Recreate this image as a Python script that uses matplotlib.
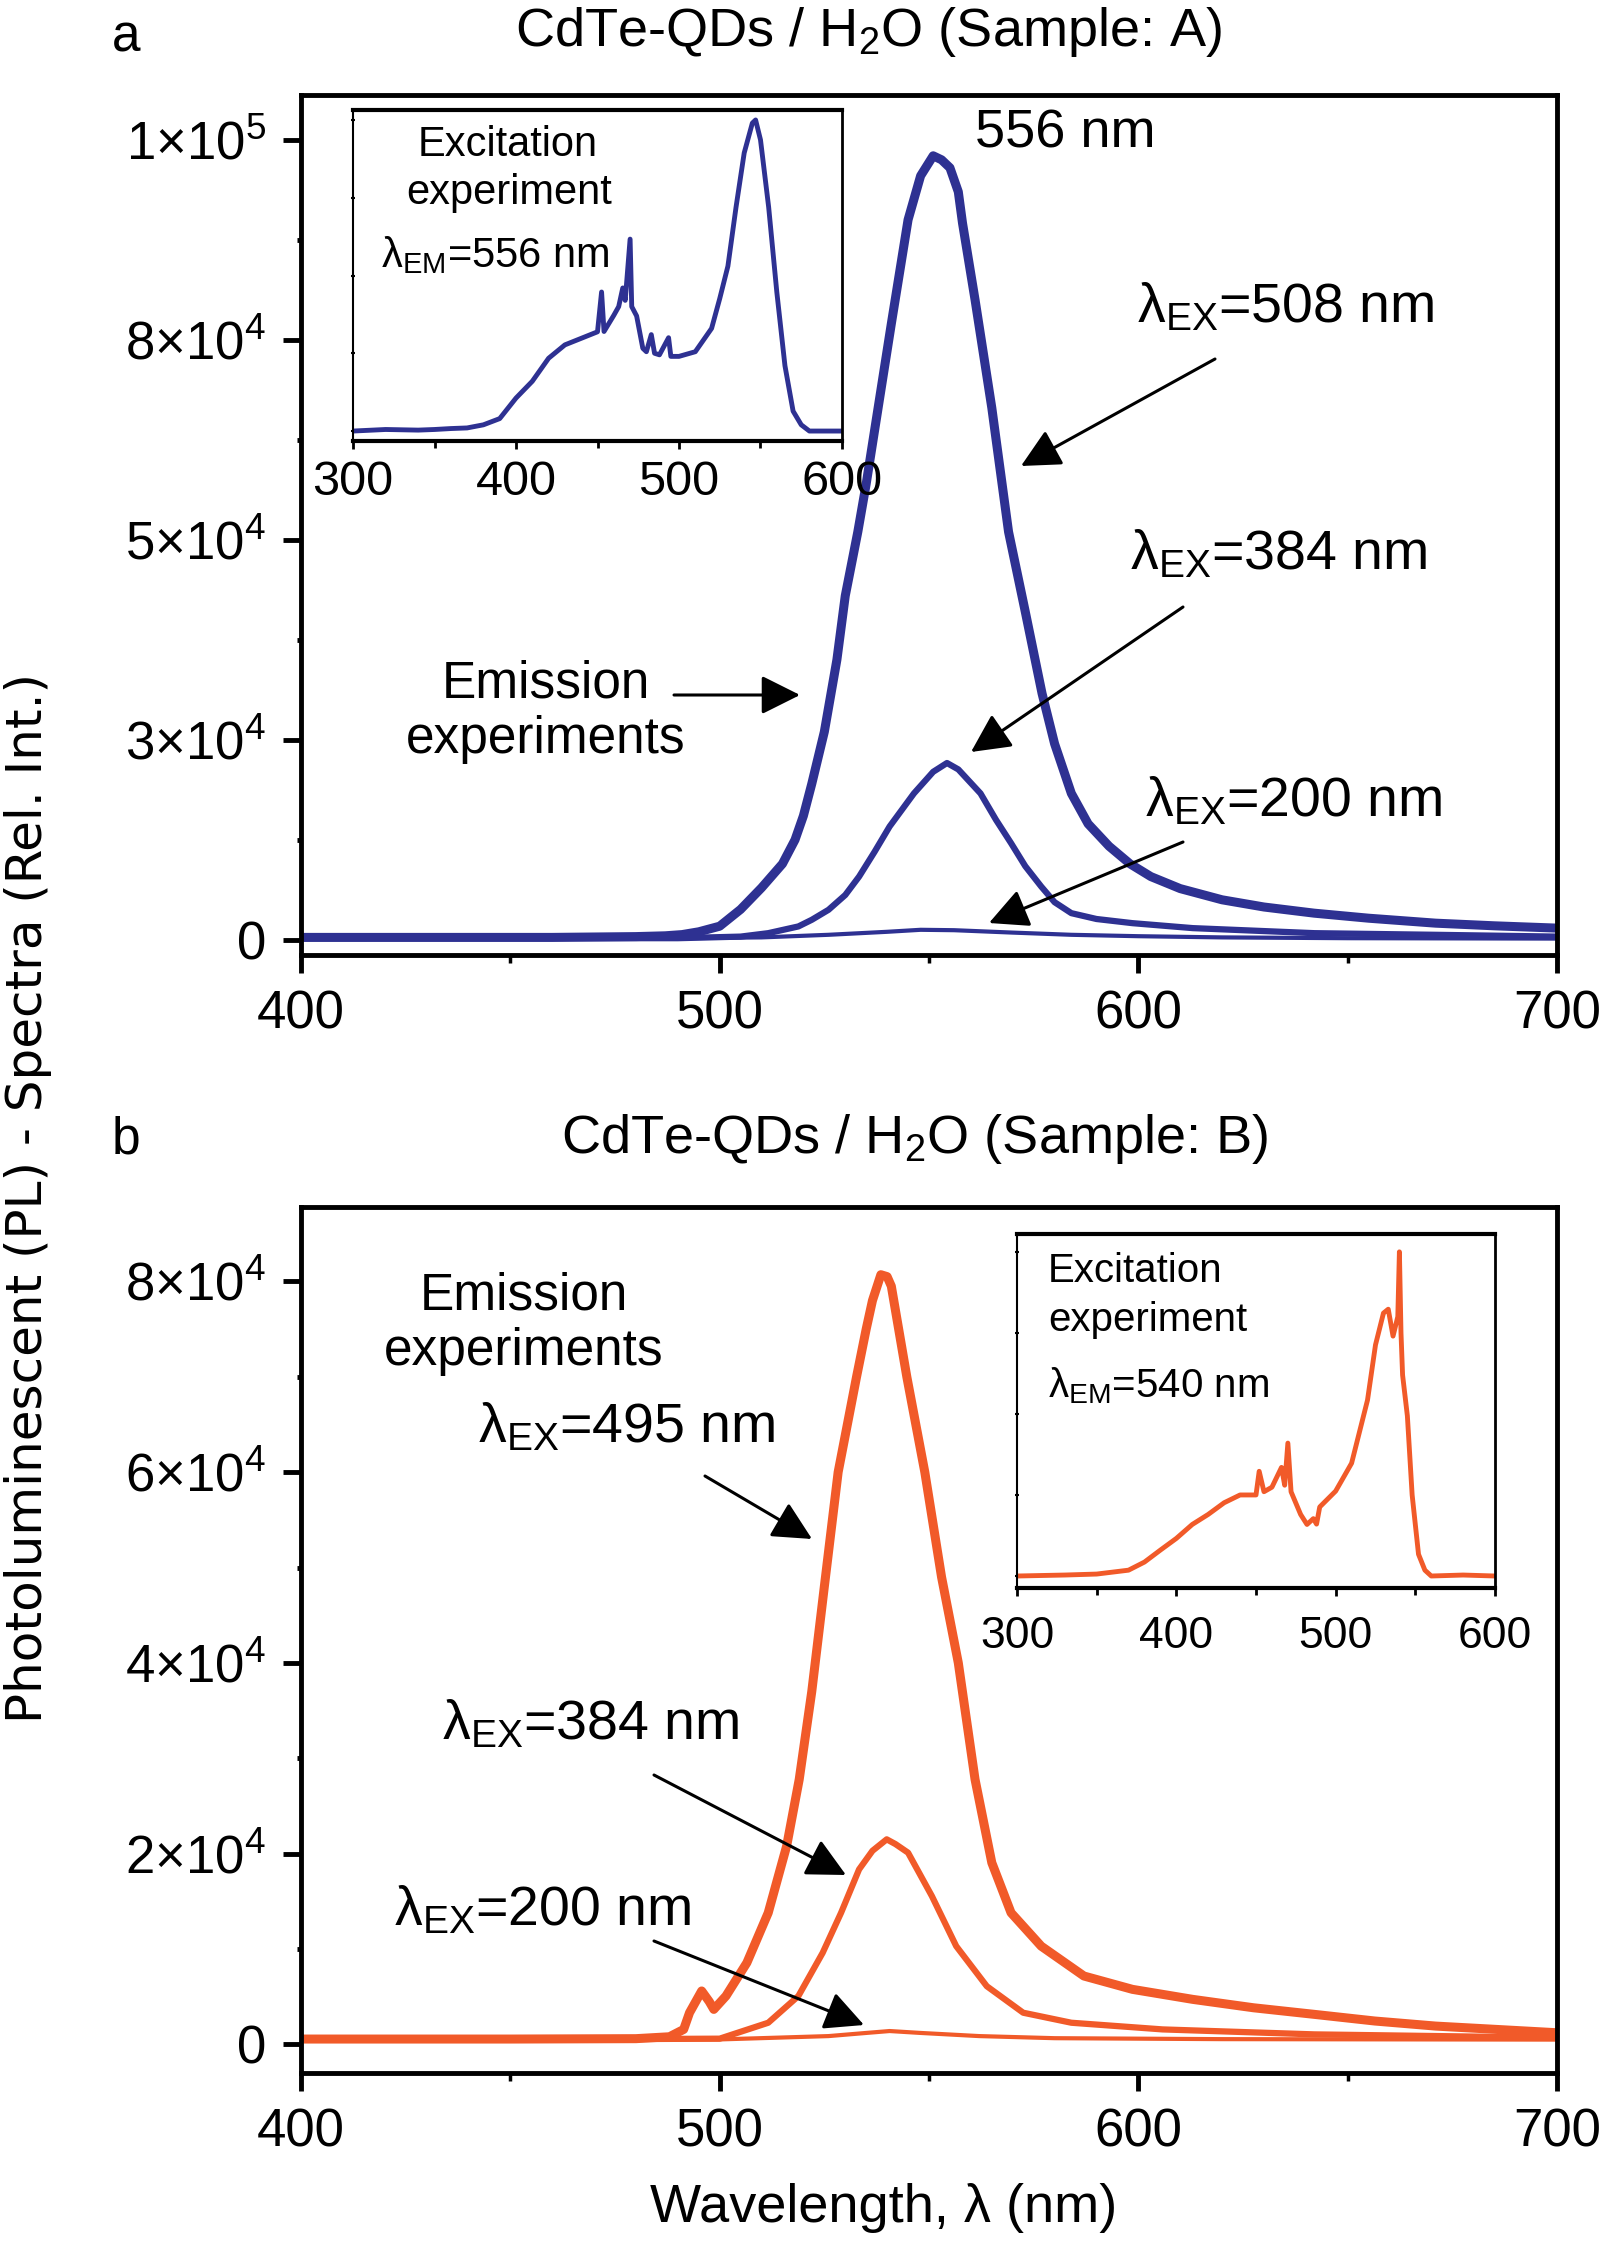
import matplotlib

matplotlib.use("Agg")
import matplotlib.pyplot as plt

plt.rcParams["font.family"] = ["Liberation Sans", "DejaVu Sans"]
plt.rcParams["mathtext.fontset"] = "custom"
plt.rcParams["mathtext.rm"] = "Liberation Sans"
plt.rcParams["mathtext.it"] = "Liberation Sans:italic"
plt.rcParams["mathtext.default"] = "regular"

BLUE = "#2E3192"
ORANGE = "#F15A29"

# ---- panel a: emission spectra (nm, counts) ----
a508_wl = [400, 420, 440, 460, 480, 487, 491, 495, 500, 505, 510, 515, 518, 520, 522, 525, 528,
           530, 533, 535, 538, 541, 545, 548, 551, 553, 555, 557, 558, 561, 565, 569, 573, 577,
           580, 584, 588, 593, 598, 603, 610, 620, 630, 642, 655, 671, 685, 700]
a508_int = [300, 300, 300, 300, 400, 500, 650, 1000, 1700, 3800, 6500, 9500, 12500, 15500,
            19500, 26000, 35000, 43000, 51000, 57000, 67000, 77000, 90000, 95500, 98000, 97500,
            96500, 93500, 89600, 80000, 66500, 51000, 41000, 30800, 24500, 18300, 14500, 11700,
            9500, 7900, 6400, 5000, 4100, 3330, 2700, 2080, 1750, 1460]

a384_wl = [400, 450, 490, 505, 511.6, 518.8, 522, 526, 530, 533.3, 537, 540.6, 546.4, 551,
           554.3, 557, 562.3, 566, 569.6, 573, 576.8, 580, 584, 590, 598.6, 613, 642, 671, 700]
a384_int = [200, 200, 200, 400, 830, 1670, 2500, 3750, 5600, 7900, 11000, 14170, 18300, 21000,
            22100, 21300, 18300, 15000, 12080, 9200, 6660, 4700, 3330, 2600, 2080, 1460, 830,
            625, 400]

a200_wl = [400, 480, 510, 526, 540, 548, 556, 570, 584, 600, 620, 650, 700]
a200_int = [100, 150, 300, 625, 1000, 1250, 1200, 900, 625, 450, 300, 200, 150]

# ---- panel a inset: excitation spectrum, lambda_EM = 556 nm (normalised) ----
exa_wl = [300, 320, 340, 350, 360, 370, 380, 390, 400, 410, 420, 430, 440, 450, 452.5, 454, 460,
          463, 465.5, 467, 470, 471, 474, 477.8, 480, 483, 485, 488, 493.6, 495, 500, 510, 520,
          525, 530, 535, 540, 545, 547, 550, 555, 560, 565, 570, 575, 580, 590, 600]
exa_int = [0, 0.005, 0.003, 0.005, 0.008, 0.01, 0.02, 0.04, 0.106, 0.16, 0.234, 0.277, 0.298,
           0.319, 0.447, 0.32, 0.372, 0.40, 0.46, 0.42, 0.617, 0.40, 0.37, 0.266, 0.255, 0.31,
           0.25, 0.245, 0.30, 0.24, 0.24, 0.255, 0.33, 0.426, 0.53, 0.72, 0.894, 0.99, 1.0, 0.936,
           0.72, 0.447, 0.21, 0.064, 0.02, 0.0, 0.0, 0.0]

# ---- panel b: emission spectra ----
b495_wl = [400, 450, 480, 488, 491.4, 492.8, 495.7, 497.5, 498.6, 501.5, 506.5, 511.6, 516, 519,
           522, 525, 528.3, 532.7, 535, 536.5, 538.5, 540, 541, 544.7, 549, 553, 557, 561, 565,
           569.6, 576.8, 587, 598.6, 613, 627.5, 642, 656.5, 671, 700]
b495_int = [560, 560, 600, 800, 1570, 3320, 5600, 4500, 3670, 5070, 8560, 13800, 20800, 27780,
            37000, 48000, 60000, 70000, 75000, 78000, 80700, 80500, 79500, 70000, 60000, 49000,
            40000, 27780, 19050, 13800, 10300, 7170, 5770, 4720, 3840, 3150, 2450, 1920, 1220]

b384_wl = [400, 480, 500, 504.3, 511.6, 518.8, 524.6, 529, 533.3, 536.5, 539.9, 542, 545, 550.7,
           556.5, 563.8, 572.5, 584, 605.8, 642, 700]
b384_int = [560, 560, 600, 1220, 2270, 5070, 9600, 13800, 18350, 20300, 21500, 21000, 20100,
            15540, 10300, 6100, 3320, 2270, 1570, 1050, 700]

b200_wl = [400, 500, 526, 535, 540.6, 548, 562, 580, 620, 700]
b200_int = [500, 520, 870, 1200, 1400, 1200, 870, 650, 550, 500]

# ---- panel b inset: excitation spectrum, lambda_EM = 540 nm (normalised) ----
exb_wl = [300, 330, 350, 370, 380, 390, 400, 410, 420, 430, 440, 450, 452, 455, 460, 466, 468,
          470, 472, 478, 482, 486, 488, 490, 500, 510, 520, 525, 530, 533, 536, 539, 540, 541,
          542, 545, 548, 552, 556, 560, 580, 600]
exb_int = [0, 0.003, 0.006, 0.018, 0.043, 0.08, 0.116, 0.159, 0.19, 0.226, 0.25, 0.25, 0.323,
           0.26, 0.274, 0.335, 0.28, 0.41, 0.26, 0.19, 0.159, 0.177, 0.16, 0.213, 0.262, 0.348,
           0.543, 0.713, 0.811, 0.823, 0.74, 0.80, 1.0, 0.75, 0.62, 0.494, 0.25, 0.067, 0.018,
           0.0, 0.003, 0.0]

A_TICKS = [0, 25000, 50000, 75000, 100000]
A_TICK_LABELS = ["0", "3×10$^4$", "5×10$^4$", "8×10$^4$", "1×10$^5$"]
B_TICKS = [0, 20000, 40000, 60000, 80000]
B_TICK_LABELS = ["0", "2×10$^4$", "4×10$^4$", "6×10$^4$", "8×10$^4$"]

W, H = 1603, 2241


def rect(x0, y0, x1, y1):
    return [x0 / W, 1 - y1 / H, (x1 - x0) / W, (y1 - y0) / H]


def fxy(x, y):
    return (x / W, 1 - y / H)


def style_main(ax, ylim, ticks, labels, minor):
    ax.set_xlim(400, 700)
    ax.set_ylim(*ylim)
    ax.set_xticks([400, 500, 600, 700])
    ax.set_xticks([450, 550, 650], minor=True)
    ax.set_yticks(ticks)
    ax.set_yticklabels(labels)
    ax.set_yticks(minor, minor=True)
    for side in ax.spines.values():
        side.set_linewidth(3.5)
    ax.tick_params(axis="both", which="major", labelsize=38, width=3.5, length=13, pad=12)
    ax.tick_params(axis="x", which="minor", width=2.5, length=6)
    ax.tick_params(axis="y", which="minor", width=3.5, length=3)


def style_inset(ax, ylim, labelsize, pad):
    ax.set_xlim(300, 600)
    ax.set_ylim(*ylim)
    ax.set_xticks([300, 400, 500, 600])
    ax.set_xticks([350, 450, 550], minor=True)
    ax.set_yticks([0, 0.25, 0.5, 0.75, 1.0])
    ax.set_yticklabels([])
    ax.spines["top"].set_linewidth(3)
    ax.spines["bottom"].set_linewidth(3)
    ax.spines["left"].set_linewidth(1.5)
    ax.spines["right"].set_linewidth(2)
    ax.tick_params(axis="x", which="major", labelsize=labelsize, width=2, length=6, pad=pad)
    ax.tick_params(axis="x", which="minor", width=2, length=5)
    ax.tick_params(axis="y", which="major", width=1.5, length=3, direction="inout")


def arrow(ax, tail, tip):
    ax.annotate("", xy=fxy(*tip), xycoords="figure fraction", xytext=fxy(*tail),
                textcoords="figure fraction", annotation_clip=False,
                arrowprops=dict(arrowstyle="-|>,head_length=0.6,head_width=0.3",
                                mutation_scale=40, color="black", lw=2.2,
                                shrinkA=0, shrinkB=0))


def label(fig, x, y, s, size, ha="left"):
    fig.text(x / W, 1 - y / H, s, fontsize=size, ha=ha, va="baseline")


fig = plt.figure(figsize=(W / 100, H / 100), dpi=100)

# panel a
ax_a = fig.add_axes(rect(301, 95, 1557, 955))
ax_a.plot(a508_wl, a508_int, color=BLUE, lw=6.5, solid_joinstyle="round")
ax_a.plot(a384_wl, a384_int, color=BLUE, lw=4.5, solid_joinstyle="round")
ax_a.plot(a200_wl, a200_int, color=BLUE, lw=3, solid_joinstyle="round")
style_main(ax_a, (-1900, 105600), A_TICKS, A_TICK_LABELS, [12500, 37500, 62500, 87500])

in_a = fig.add_axes(rect(353, 110, 842, 441))
in_a.plot(exa_wl, exa_int, color=BLUE, lw=3.5, solid_joinstyle="round")
style_inset(in_a, (-0.032, 1.032), 35, 8)

label(fig, 112, 51, "a", 37)
label(fig, 869, 46, "CdTe-QDs / H$_2$O (Sample: A)", 39, ha="center")
label(fig, 975, 148, "556 nm", 39)
label(fig, 1137, 322, "λ$_{EX}$=508 nm", 40)
label(fig, 1130, 569, "λ$_{EX}$=384 nm", 40)
label(fig, 1145, 816, "λ$_{EX}$=200 nm", 40)
label(fig, 546, 698, "Emission", 37, ha="center")
label(fig, 546, 753, "experiments", 37, ha="center")
label(fig, 508, 156, "Excitation", 30, ha="center")
label(fig, 509, 204, "experiment", 30, ha="center")
label(fig, 495, 267, "λ$_{EM}$=556 nm", 30, ha="center")
arrow(ax_a, (1215, 359), (1021, 466))
arrow(ax_a, (1183, 607), (971, 752))
arrow(ax_a, (1183, 842), (989, 923))
arrow(ax_a, (674, 695), (800, 695))

# panel b
ax_b = fig.add_axes(rect(301, 1207, 1557, 2073))
ax_b.plot(b495_wl, b495_int, color=ORANGE, lw=6.5, solid_joinstyle="round")
ax_b.plot(b384_wl, b384_int, color=ORANGE, lw=4.5, solid_joinstyle="round")
ax_b.plot(b200_wl, b200_int, color=ORANGE, lw=3, solid_joinstyle="round")
style_main(ax_b, (-3000, 87800), B_TICKS, B_TICK_LABELS, [10000, 30000, 50000, 70000])

in_b = fig.add_axes(rect(1017, 1234, 1495, 1588))
in_b.plot(exb_wl, exb_int, color=ORANGE, lw=3.5, solid_joinstyle="round")
style_inset(in_b, (-0.037, 1.055), 32, 14)

label(fig, 112, 1153, "b", 37)
label(fig, 915, 1153, "CdTe-QDs / H$_2$O (Sample: B)", 39, ha="center")
label(fig, 524, 1310, "Emission", 37, ha="center")
label(fig, 524, 1365, "experiments", 37, ha="center")
label(fig, 478, 1442, "λ$_{EX}$=495 nm", 40)
label(fig, 442, 1739, "λ$_{EX}$=384 nm", 40)
label(fig, 394, 1925, "λ$_{EX}$=200 nm", 40)
label(fig, 1048, 1282, "Excitation", 29)
label(fig, 1048, 1331, "experiment", 29)
label(fig, 1048, 1397, "λ$_{EM}$=540 nm", 29)
arrow(ax_b, (705, 1476), (812, 1539))
arrow(ax_b, (654, 1775), (846, 1875))
arrow(ax_b, (654, 1941), (864, 2025))

label(fig, 884, 2222, "Wavelength, λ (nm)", 39, ha="center")
fig.text(28 / W, 1 - 1198 / H, "Photoluminescent (PL) - Spectra (Rel. Int.)",
         fontsize=36, family="DejaVu Sans", rotation=90, ha="center", va="center")

fig.savefig("out.png", dpi=100)
